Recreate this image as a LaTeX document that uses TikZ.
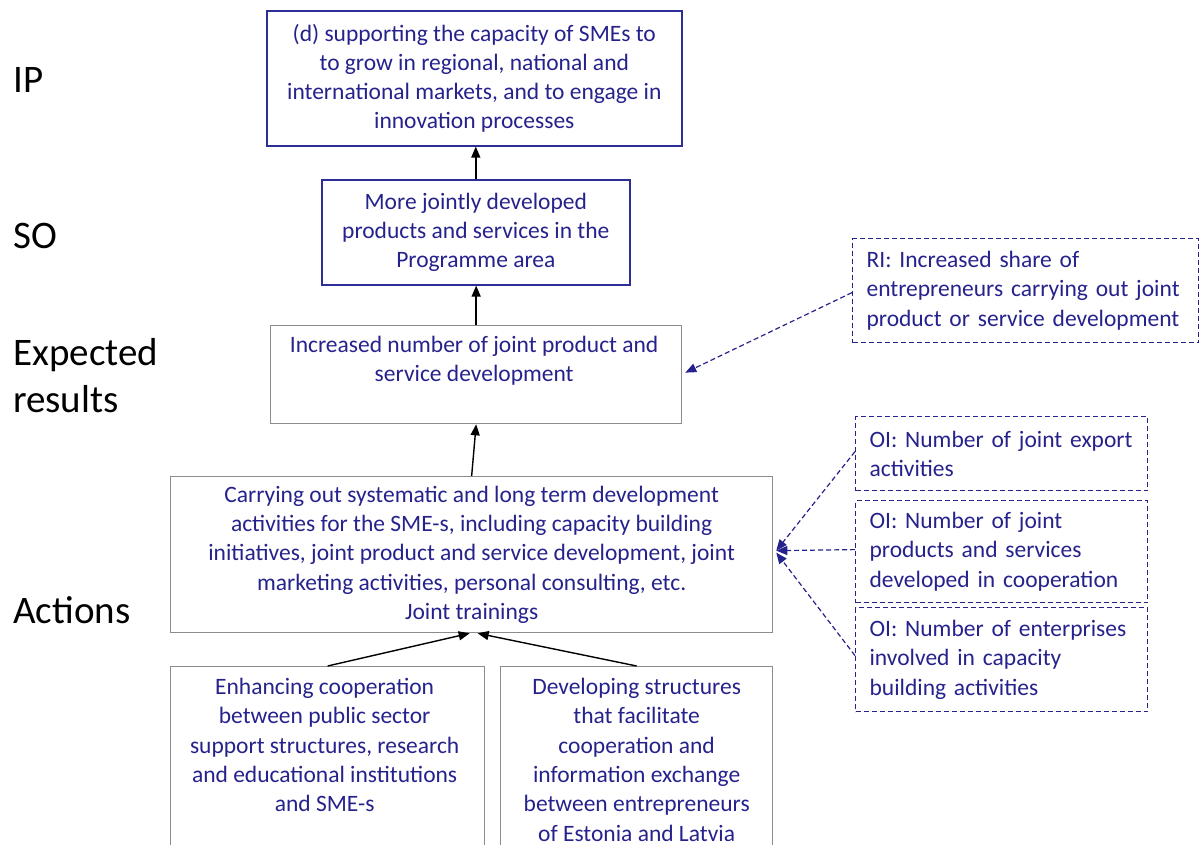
\documentclass[tikz,border=0pt]{standalone}
\usepackage{fontspec}
\setmainfont{Carlito}
\usetikzlibrary{arrows.meta,calc}
\definecolor{navy}{RGB}{38,34,140}
\definecolor{navyline}{RGB}{45,45,150}
\definecolor{boxgray}{RGB}{140,140,140}
\begin{document}
\begin{tikzpicture}[x=1pt,y=-1pt,
  every node/.style={font=\fontsize{23.5}{29.3}\selectfont, text=navy},
  bluebox/.style={draw=navyline, line width=1.6pt, inner sep=0pt, align=center, anchor=north west},
  graybox/.style={draw=boxgray, line width=1.3pt, inner sep=0pt, align=center, anchor=north west},
  boxtext/.style={inner sep=0pt, align=center, anchor=north},
  indbox/.style={draw=navy, line width=1.2pt, dash pattern=on 5pt off 3pt,
    inner xsep=14pt, inner ysep=0pt, align=left, anchor=north west},
  level/.style={font=\fontsize{39}{47}\selectfont, text=black, anchor=west, align=left, inner sep=0pt},
  flow/.style={-{Triangle[length=11pt,width=9pt]}, black, line width=1.4pt},
  ind/.style={-{Triangle[length=11pt,width=9pt]}, navy, line width=1.2pt, dash pattern=on 5pt off 3pt}
]
\useasboundingbox (0,0) rectangle (1200,845);
\clip (0,0) rectangle (1200,845);

% level labels
\node[level] (lip) at (13,80) {IP};
\node[level] (lso) at (13,236) {SO};
\node[level] (lexp) at (13,376) {Expected\\results};
\node[level] (lact) at (13,610) {Actions};

% intervention logic boxes
\node[bluebox, minimum width=415pt, minimum height=135pt] (ip) at (266,10)
  {(d) supporting the capacity of SMEs to\\to grow in regional, national and\\international markets, and to engage in\\innovation processes};
\node[bluebox, minimum width=308pt, minimum height=105pt] (so) at (321,179)
  {More jointly developed\\products and services in the\\Programme area};
\node[graybox, minimum width=411pt, minimum height=98pt] (exp) at (270,325) {};
\node[boxtext] (exptext) at ($(exp.north)+(-2,11)$)
  {Increased number of joint product and\\service development};
\node[graybox, minimum width=602pt, minimum height=156pt] (act) at (170,476)
  {Carrying out systematic and long term development\\activities for the SME-s, including capacity building\\initiatives, joint product and service development, joint\\marketing activities, personal consulting, etc.\\Joint trainings};
\node[graybox, minimum width=314pt, minimum height=230pt] (enh) at (170,666) {};
\node[boxtext] (enhtext) at ($(enh.north)+(-3,12)$)
  {Enhancing cooperation\\between public sector\\support structures, research\\and educational institutions\\and SME-s};
\node[graybox, minimum width=272pt, minimum height=230pt] (dev) at (500,666) {};
\node[boxtext] (devtext) at ($(dev.north)+(0,12)$)
  {Developing structures\\that facilitate\\cooperation and\\information exchange\\between entrepreneurs\\of Estonia and Latvia};

% indicator boxes
\node[indbox, text width=318pt, minimum height=104pt] (ri) at (852,238)
  {RI: Increased share of\\entrepreneurs carrying out joint\\product or service development};
\node[indbox, text width=264pt, minimum height=74pt] (oi1) at (855,416)
  {OI: Number of joint export\\activities};
\node[indbox, text width=264pt, minimum height=102pt] (oi2) at (855,500)
  {OI: Number of joint\\products and services\\developed in cooperation};
\node[indbox, text width=264pt, minimum height=104pt] (oi3) at (855,607)
  {OI: Number of enterprises\\involved in capacity\\building activities};

% contribution arrows
\draw[flow] (so.north) -- (so.north |- ip.south);
\draw[flow] (exp.north) -- (exp.north |- so.south);
\draw[flow] (act.north) -- (exp.south);
\draw[flow] (enh.north) -- ($(act.south)+(-2,0)$);
\draw[flow] (dev.north) -- ($(act.south)+(6,0)$);

% indicator links
\draw[ind] ($(ri.west)+(0,2)$) -- ($(exp.east)+(3,-2)$);
\draw[ind] ($(oi1.west)+(0,-2)$) -- ($(act.east)+(3,-4)$);
\draw[ind] ($(oi2.west)+(0,-2)$) -- ($(act.east)+(3,-4)$);
\draw[ind] ($(oi3.west)+(0,-4)$) -- ($(act.east)+(3,-2)$);
\end{tikzpicture}
\end{document}
